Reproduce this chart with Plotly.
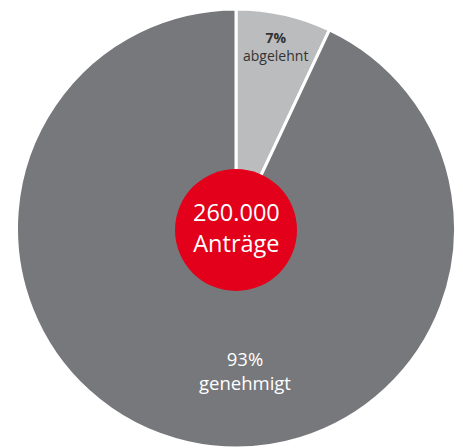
import plotly.graph_objects as go

categories = ["abgelehnt", "genehmigt"]
percent = [7, 93]
colors = ["#bbbcbe", "#77787b"]
total_label = "260.000"
total_caption = "Anträge"

W, H = 463, 448
cx, cy, r = 236, 228.5, 219.5  # pixel from top

fig = go.Figure()
fig.add_trace(go.Pie(
    labels=categories, values=percent, sort=False, direction="clockwise", rotation=0,
    marker=dict(colors=colors, line=dict(color="white", width=3)),
    textinfo="none", hoverinfo="label+percent", showlegend=False,
    domain=dict(x=[(cx - r) / W, (cx + r) / W], y=[max(0, (H - cy - r) / H), (H - cy + r) / H]),
))

rc = 61
ccy = 230
fig.add_shape(type="circle", xref="paper", yref="paper",
              x0=(cx - rc) / W, x1=(cx + rc) / W,
              y0=(H - ccy - rc) / H, y1=(H - ccy + rc) / H,
              fillcolor="#e2001a", line=dict(width=0), layer="above")

font = "Open Sans"
def px(x, y):
    return x / W, 1 - y / H

anns = [
    (f"{total_label}<br>{total_caption}", 236, 227.5, 23.5, "white"),
    (f"<b>{percent[0]}%</b><br>{categories[0]}", 275, 46.5, 14, "#333333"),
    (f"{percent[1]}%<br>{categories[1]}", 245, 370, 18.5, "white"),
]
for t, x, y, s, c in anns:
    ax, ay = px(x, y)
    fig.add_annotation(text=t, x=ax, y=ay, xref="paper", yref="paper", showarrow=False,
                       xanchor="center", yanchor="middle", align="center",
                       font=dict(family=font, size=s, color=c))

fig.update_layout(width=W, height=H, margin=dict(l=0, r=0, t=0, b=0),
                  paper_bgcolor="white", plot_bgcolor="white")
fig.write_html("out.html")
